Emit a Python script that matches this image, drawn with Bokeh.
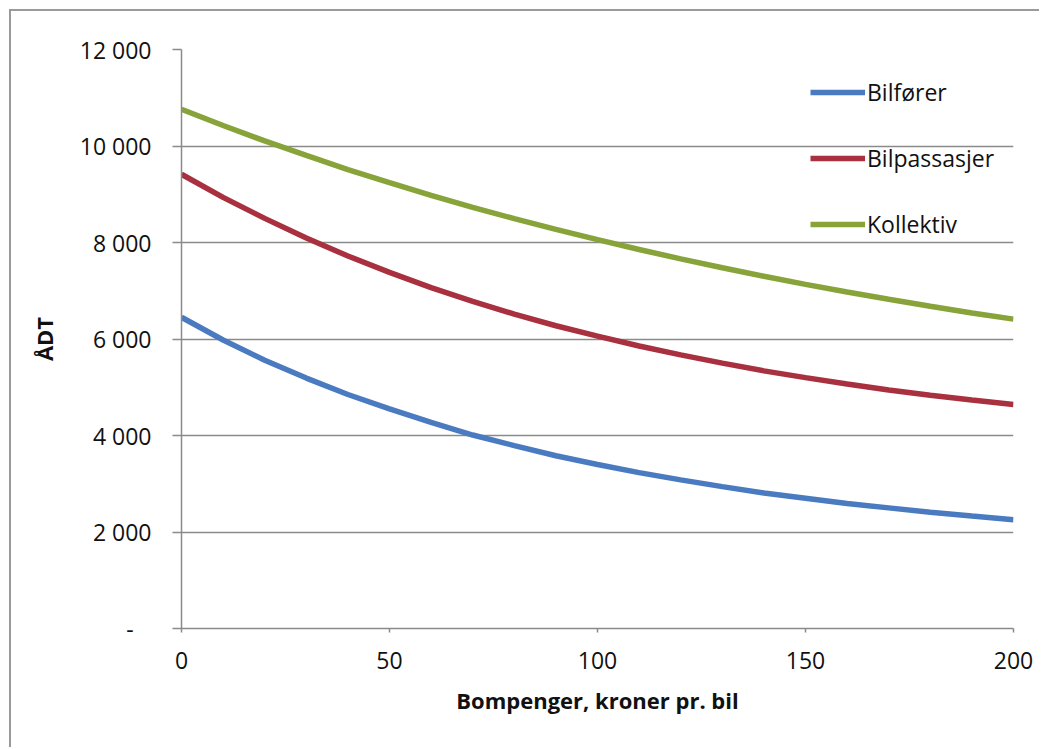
from bokeh.plotting import figure
from bokeh.models import Range1d, FixedTicker, Legend, LegendItem
from bokeh.embed import file_html
from bokeh.resources import INLINE

# Data
bompenger = [0, 10, 20, 30, 40, 50, 60, 70, 80, 90, 100,
             110, 120, 130, 140, 150, 160, 170, 180, 190, 200]
bilforer = [6450, 5980, 5560, 5190, 4850, 4550, 4270, 4010, 3790, 3580, 3400,
            3230, 3080, 2940, 2810, 2700, 2590, 2500, 2410, 2330, 2255]
bilpassasjer = [9414, 8935, 8500, 8095, 7720, 7380, 7065, 6780, 6515, 6275, 6060,
                5855, 5670, 5500, 5340, 5200, 5068, 4942, 4835, 4735, 4641]
kollektiv = [10760, 10425, 10105, 9805, 9512, 9240, 8978, 8730, 8494, 8273, 8060,
             7855, 7660, 7478, 7300, 7132, 6975, 6825, 6678, 6538, 6412]

series_names = ["Bilfører", "Bilpassasjer", "Kollektiv"]
series_values = [bilforer, bilpassasjer, kollektiv]
series_colors = ["#4A7BC0", "#A8303F", "#87A33A"]

x_ticks = [0, 50, 100, 150, 200]
y_ticks = [0, 2000, 4000, 6000, 8000, 10000, 12000]
y_tick_labels = ["-\u00a0\u00a0\u00a0", "2 000", "4 000", "6 000", "8 000", "10 000", "12 000"]

x_title = "Bompenger, kroner pr. bil"
y_title = "ÅDT"

FONT = "Open Sans"
GRID = "#8a8a8a"
OFF = 11  # offset of the canvas inside the outer border

p = figure(width=1041 - OFF, height=749 - OFF, output_backend="svg", toolbar_location=None,
           x_range=Range1d(0, 200), y_range=Range1d(0, 12000),
           min_border_left=181 - OFF, min_border_right=28, min_border_top=49 - OFF,
           min_border_bottom=121)
p.styles = {"border-left": "2px solid #9a9a9a", "border-top": "2px solid #9a9a9a",
            "margin-left": "9px", "margin-top": "9px"}
p.outline_line_color = None
p.background_fill_color = "white"
p.border_fill_color = "white"

p.xgrid.grid_line_color = None
p.ygrid.grid_line_color = GRID
p.ygrid.grid_line_width = 1.5

p.xaxis.ticker = FixedTicker(ticks=x_ticks)
p.yaxis.ticker = FixedTicker(ticks=y_ticks)
p.yaxis.major_label_overrides = {t: l for t, l in zip(y_ticks, y_tick_labels)}

for ax in (p.xaxis[0], p.yaxis[0]):
    ax.axis_line_color = GRID
    ax.axis_line_width = 1.5
    ax.major_tick_line_color = GRID
    ax.major_tick_line_width = 1.5
    ax.major_tick_in = 0
    ax.minor_tick_line_color = None
    ax.major_label_text_font = FONT
    ax.major_label_text_font_size = "23px"
    ax.major_label_text_color = "#111111"
    ax.axis_label_text_font = FONT
    ax.axis_label_text_font_style = "bold"
    ax.axis_label_text_font_size = "22px"
    ax.axis_label_text_color = "#111111"

p.xaxis.major_tick_out = 4
p.xaxis.major_label_standoff = 19
p.xaxis.axis_label = x_title
p.xaxis.axis_label_standoff = 13

p.yaxis.major_tick_out = 9
p.yaxis.major_label_standoff = 21
p.yaxis.axis_label = y_title
p.yaxis.axis_label_standoff = 18

items = []
for name, vals, col in zip(series_names, series_values, series_colors):
    r = p.line(bompenger, vals, line_color=col, line_width=5.5)
    items.append(LegendItem(label=name, renderers=[r]))

legend = Legend(items=items, location=(629, 388), orientation="vertical",
                glyph_width=55, glyph_height=24, label_height=24, spacing=34,
                label_standoff=2, padding=0, margin=0,
                label_text_font=FONT, label_text_font_size="23px",
                label_text_color="#111111",
                border_line_color=None, background_fill_alpha=0)
p.add_layout(legend, "center")

open("out.html", "w").write(file_html(p, INLINE))
